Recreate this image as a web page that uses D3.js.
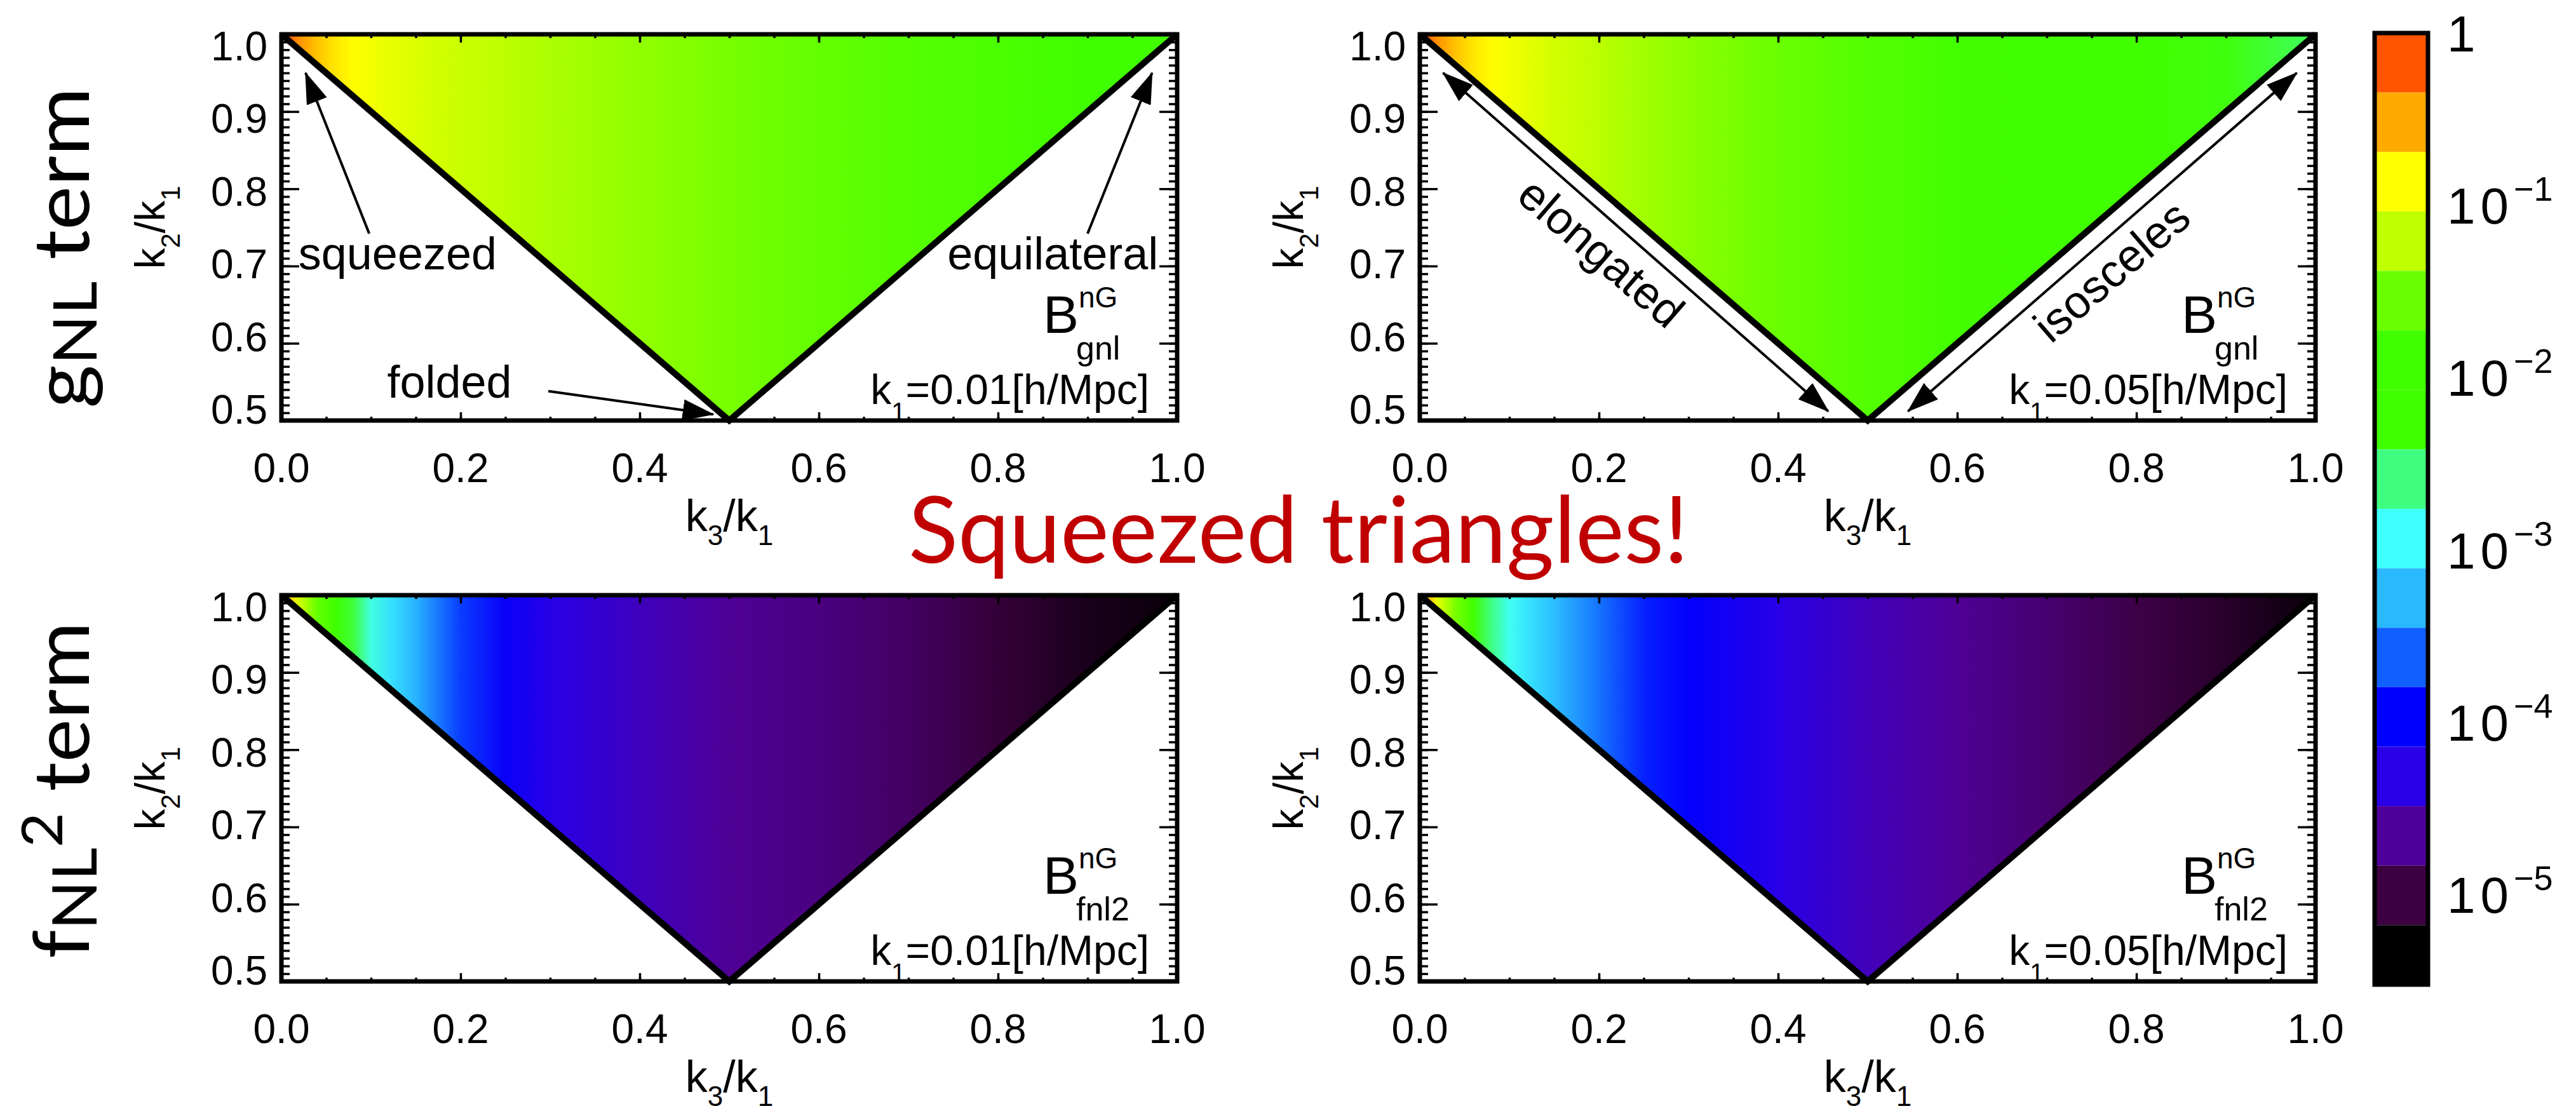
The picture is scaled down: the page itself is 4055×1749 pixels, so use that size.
<!DOCTYPE html>
<html>
<head>
<meta charset="utf-8">
<title>Squeezed triangles – non-Gaussian bispectrum shapes</title>
<script src="https://cdn.jsdelivr.net/npm/d3@7"></script>
<style>
  html, body { margin: 0; padding: 0; background: #fff; }
  svg { display: block; }
</style>
</head>
<body>
<svg id="chart" width="4055" height="1749"></svg>
<script>
// ---------------------------------------------------------------------------
// Data
// ---------------------------------------------------------------------------
// k3/k1 positions at which the normalised bispectrum is sampled
const k3Ratio = [0, 0.01, 0.02, 0.04, 0.06, 0.08, 0.1, 0.125, 0.15, 0.2, 0.25, 0.3, 0.4, 0.5, 0.6, 0.7, 0.8, 0.9, 1.0];

// log10 of B^nG (normalised to 1) along k3/k1, one list per panel
const gnlK001  = [-0.05, -0.25, -0.42, -0.62, -0.76, -0.86, -0.93, -1.00, -1.06, -1.15, -1.22, -1.29, -1.40, -1.50, -1.62, -1.73, -1.82, -1.90, -1.98];
const gnlK005  = [-0.05, -0.25, -0.42, -0.62, -0.76, -0.85, -0.93, -1.02, -1.10, -1.22, -1.33, -1.42, -1.56, -1.74, -1.88, -1.99, -2.10, -2.28, -2.50];
const fnl2K001 = [-0.10, -0.70, -1.10, -1.60, -1.95, -2.40, -2.85, -3.10, -3.30, -3.75, -4.05, -4.30, -4.50, -4.68, -4.76, -4.88, -5.05, -5.20, -5.30];
const fnl2K005 = [-0.10, -0.60, -1.00, -1.50, -2.05, -2.60, -2.90, -3.10, -3.25, -3.55, -3.85, -4.00, -4.30, -4.52, -4.68, -4.82, -4.98, -5.12, -5.30];

// colour bar: 16 levels from 1 down to 3e-6
const cbColors = ["#FF5500", "#FFAA00", "#FFFF00", "#BFFF00", "#6AFF00", "#40FF00", "#40FF00", "#40FF80",
                  "#40FFFF", "#2AB8FF", "#1060FF", "#0000FF", "#2A00E6", "#50009A", "#3C0040", "#000000"];
const cbTopColor = "#FF2200";
const cbMin = 3e-6, cbMax = 1;
const cbTicks = [1, 1e-1, 1e-2, 1e-3, 1e-4, 1e-5];

// axis tick labels
const xTicks = [0, 0.2, 0.4, 0.6, 0.8, 1.0];
const yTicks = [0.5, 0.6, 0.7, 0.8, 0.9, 1.0];

// ---------------------------------------------------------------------------
// Layout
// ---------------------------------------------------------------------------
const W = 4055, H = 1749;
const colX = [443, 2235], rowY = [54, 937];
const PW = 1410, PH = 608;
const FONT = "'Liberation Sans', Arial, Helvetica, sans-serif";
const SLIDE_FONT = "Lato, 'Open Sans', sans-serif";

const svg = d3.select("#chart");
svg.append("rect").attr("width", W).attr("height", H).attr("fill", "#fff");
const defs = svg.append("defs");

// arrow head used by the shape annotations
defs.append("marker")
  .attr("id", "head")
  .attr("markerUnits", "userSpaceOnUse")
  .attr("markerWidth", 50).attr("markerHeight", 34)
  .attr("refX", 48).attr("refY", 17)
  .attr("orient", "auto-start-reverse")
  .append("path").attr("d", "M0,0 L50,17 L0,34 Z").attr("fill", "#000");

// continuous colour map in log10 space built from the colour-bar levels
const logMax = Math.log10(cbMax), logMin = Math.log10(cbMin);
const bandW = (logMax - logMin) / cbColors.length;
const centres = cbColors.map((c, i) => logMax - (i + 0.5) * bandW);
const cmap = d3.scaleLinear()
  .domain([logMax, ...centres])
  .range([cbTopColor, ...cbColors])
  .interpolate(d3.interpolateRgb)
  .clamp(true);

// ---------------------------------------------------------------------------
// Panels
// ---------------------------------------------------------------------------
const panels = [
  { row: 0, col: 0, values: gnlK001,  sub: "gnl",  k1: "0.01" },
  { row: 0, col: 1, values: gnlK005,  sub: "gnl",  k1: "0.05" },
  { row: 1, col: 0, values: fnl2K001, sub: "fnl2", k1: "0.01" },
  { row: 1, col: 1, values: fnl2K005, sub: "fnl2", k1: "0.05" }
];

const xMinor = d3.range(21).map(i => i * 0.05);
const yMinor = d3.range(51).map(i => 0.5 + i * 0.01);

function styleTicks(sel) {
  sel.select(".domain").remove();
  sel.selectAll(".tick line").attr("stroke", "#000").attr("stroke-width", 3.5);
  sel.selectAll(".tick text").remove();
}

panels.forEach((p, idx) => {
  const x0 = colX[p.col], y0 = rowY[p.row];
  const x = d3.scaleLinear().domain([0, 1]).range([x0, x0 + PW]);
  const y = d3.scaleLinear().domain([0.5, 1]).range([y0 + PH, y0]);
  const g = svg.append("g").attr("class", "panel");

  // horizontal colour gradient along k3/k1
  const gid = "grad" + idx;
  defs.append("linearGradient")
    .attr("id", gid)
    .attr("gradientUnits", "userSpaceOnUse")
    .attr("x1", x(0)).attr("x2", x(1)).attr("y1", 0).attr("y2", 0)
    .selectAll("stop").data(k3Ratio).join("stop")
    .attr("offset", d => (x(d) - x(0)) / (x(1) - x(0)))
    .attr("stop-color", (d, i) => cmap(p.values[i]));

  const line = d3.line().x(d => x(d[0])).y(d => y(d[1]));
  // allowed triangle region: k3 <= k2 <= k1, k2 + k3 >= k1
  g.append("path")
    .attr("d", line([[0, 1], [1, 1], [0.5, 0.5]]) + "Z")
    .attr("fill", `url(#${gid})`);
  g.append("path")
    .attr("d", line([[0, 1], [0.5, 0.5], [1, 1]]))
    .attr("fill", "none").attr("stroke", "#000")
    .attr("stroke-width", 10).attr("stroke-linejoin", "miter");

  // inward ticks on all four sides
  const bottom = g.append("g").attr("transform", `translate(0,${y0 + PH})`);
  bottom.append("g").call(d3.axisBottom(x).tickValues(xMinor).tickSize(-6)).call(styleTicks);
  bottom.append("g").call(d3.axisBottom(x).tickValues(xTicks).tickSize(-13)).call(styleTicks);
  const top = g.append("g").attr("transform", `translate(0,${y0})`);
  top.append("g").call(d3.axisTop(x).tickValues(xMinor).tickSize(-6)).call(styleTicks);
  top.append("g").call(d3.axisTop(x).tickValues(xTicks).tickSize(-13)).call(styleTicks);
  const left = g.append("g").attr("transform", `translate(${x0},0)`);
  left.append("g").call(d3.axisLeft(y).tickValues(yMinor).tickSize(-13)).call(styleTicks);
  left.append("g").call(d3.axisLeft(y).tickValues(yTicks).tickSize(-28)).call(styleTicks);
  const right = g.append("g").attr("transform", `translate(${x0 + PW},0)`);
  right.append("g").call(d3.axisRight(y).tickValues(yMinor).tickSize(-13)).call(styleTicks);
  right.append("g").call(d3.axisRight(y).tickValues(yTicks).tickSize(-28)).call(styleTicks);

  // frame
  g.append("rect")
    .attr("x", x0).attr("y", y0).attr("width", PW).attr("height", PH)
    .attr("fill", "none").attr("stroke", "#000").attr("stroke-width", 7);

  // tick labels
  g.selectAll(".xl").data(xTicks).join("text")
    .attr("x", d => x(d)).attr("y", y0 + PH + 97)
    .attr("text-anchor", "middle")
    .attr("font-family", FONT).attr("font-size", 64)
    .text(d => d.toFixed(1));
  // y labels sit inside the axis span: top label flush with the top, bottom one with the bottom
  const yl = d3.scaleLinear().domain([0.5, 1]).range([y0 + PH - 18, y0 + 18]);
  g.selectAll(".yl").data(yTicks).join("text")
    .attr("x", x0 - 22).attr("y", d => yl(d)).attr("dy", "0.36em")
    .attr("text-anchor", "end")
    .attr("font-family", FONT).attr("font-size", 64)
    .text(d => d.toFixed(1));

  // axis titles
  const xt = g.append("text")
    .attr("x", x(0.5)).attr("y", y0 + PH + 174)
    .attr("text-anchor", "middle")
    .attr("font-family", FONT).attr("font-size", 70);
  xt.append("tspan").text("k");
  xt.append("tspan").attr("font-size", 44).attr("dy", 22).text("3");
  xt.append("tspan").attr("dy", -22).text("/k");
  xt.append("tspan").attr("font-size", 44).attr("dy", 22).text("1");

  const yt = g.append("text")
    .attr("transform", `translate(${x0 - 184},${y(0.75)}) rotate(-90)`)
    .attr("text-anchor", "middle")
    .attr("font-family", FONT).attr("font-size", 66);
  yt.append("tspan").text("k");
  yt.append("tspan").attr("font-size", 42).attr("dy", 24).text("2");
  yt.append("tspan").attr("dy", -24).text("/k");
  yt.append("tspan").attr("font-size", 42).attr("dy", 24).text("1");

  // B^nG label
  const bx = x0 + PW - 211, by = y0 + PH - 138;
  g.append("text").attr("x", bx).attr("y", by)
    .attr("font-family", FONT).attr("font-size", 84).text("B");
  g.append("text").attr("x", bx + 56).attr("y", by - 40)
    .attr("font-family", FONT).attr("font-size", 46).text("nG");
  g.append("text").attr("x", bx + 52).attr("y", by + 42)
    .attr("font-family", FONT).attr("font-size", 52).text(p.sub);

  // k1 label
  const kt = g.append("text")
    .attr("x", x0 + PW - 44).attr("y", y0 + PH - 26)
    .attr("text-anchor", "end")
    .attr("font-family", FONT).attr("font-size", 66);
  kt.append("tspan").text("k");
  kt.append("tspan").attr("font-size", 40).attr("dy", 26).text("1");
  kt.append("tspan").attr("dy", -26).text(`=${p.k1}[h/Mpc]`);

  p.x = x; p.y = y; p.g = g;
});

// ---------------------------------------------------------------------------
// Shape annotations (in k3/k1, k2/k1 coordinates)
// ---------------------------------------------------------------------------
const notesTL = [
  { text: "squeezed",    at: [0.019, 0.696], anchor: "start" },
  { text: "folded",      at: [0.118, 0.530], anchor: "start" },
  { text: "equilateral", at: [0.979, 0.696], anchor: "end" }
];
const arrowsTL = [
  { from: [0.098, 0.742], to: [0.027, 0.950] },
  { from: [0.298, 0.538], to: [0.482, 0.508] },
  { from: [0.900, 0.742], to: [0.972, 0.950] }
];
const arrowsTR = [
  { from: [0.456, 0.512], to: [0.026, 0.950] },
  { from: [0.545, 0.512], to: [0.979, 0.950] }
];
const notesTR = [
  { text: "elongated", at: [0.203, 0.718], side: 1 },
  { text: "isosceles", at: [0.772, 0.694], side: -1 }
];

{
  const p = panels[0];
  notesTL.forEach(n => {
    p.g.append("text")
      .attr("x", p.x(n.at[0])).attr("y", p.y(n.at[1]))
      .attr("text-anchor", n.anchor)
      .attr("font-family", FONT).attr("font-size", 72)
      .text(n.text);
  });
  arrowsTL.forEach(a => {
    p.g.append("line")
      .attr("x1", p.x(a.from[0])).attr("y1", p.y(a.from[1]))
      .attr("x2", p.x(a.to[0])).attr("y2", p.y(a.to[1]))
      .attr("stroke", "#000").attr("stroke-width", 4)
      .attr("marker-end", "url(#head)");
  });
}
{
  const p = panels[1];
  const ang = Math.atan2(p.y(0.5) - p.y(1), p.x(0.5) - p.x(0)) * 180 / Math.PI;
  arrowsTR.forEach(a => {
    p.g.append("line")
      .attr("x1", p.x(a.from[0])).attr("y1", p.y(a.from[1]))
      .attr("x2", p.x(a.to[0])).attr("y2", p.y(a.to[1]))
      .attr("stroke", "#000").attr("stroke-width", 4)
      .attr("marker-start", "url(#head)")
      .attr("marker-end", "url(#head)");
  });
  notesTR.forEach(n => {
    p.g.append("text")
      .attr("transform", `translate(${p.x(n.at[0])},${p.y(n.at[1])}) rotate(${n.side * ang})`)
      .attr("text-anchor", "middle").attr("dy", "0.36em")
      .attr("font-family", FONT).attr("font-size", 72)
      .text(n.text);
  });
}

// ---------------------------------------------------------------------------
// Colour bar
// ---------------------------------------------------------------------------
const cbX = 3738, cbW = 84, cbTop = 52, cbBottom = 1550;
const cbY = d3.scaleLog().domain([cbMin, cbMax]).range([cbBottom, cbTop]);
const cb = svg.append("g").attr("class", "colorbar");
cb.selectAll("rect.band").data(cbColors).join("rect")
  .attr("class", "band")
  .attr("x", cbX).attr("width", cbW)
  .attr("y", (d, i) => cbY(Math.pow(10, logMax - i * bandW)))
  .attr("height", (d, i) => cbY(Math.pow(10, logMax - (i + 1) * bandW)) - cbY(Math.pow(10, logMax - i * bandW)))
  .attr("fill", d => d);
cb.append("rect")
  .attr("x", cbX).attr("y", cbTop).attr("width", cbW).attr("height", cbBottom - cbTop)
  .attr("fill", "none").attr("stroke", "#000").attr("stroke-width", 7);
cbTicks.forEach(t => {
  const e = Math.round(Math.log10(t));
  const lab = cb.append("text")
    .attr("x", cbX + cbW + 30).attr("y", cbY(t)).attr("dy", "0.36em")
    .attr("font-family", FONT).attr("font-size", 80);
  if (e === 0) { lab.text("1"); return; }
  lab.append("tspan").attr("letter-spacing", 8).text("10");
  lab.append("tspan").attr("font-size", 54).attr("dy", -36).text("\u2212" + Math.abs(e));
});

// ---------------------------------------------------------------------------
// Slide texts
// ---------------------------------------------------------------------------
svg.append("text")
  .attr("x", 2044).attr("y", 886)
  .attr("text-anchor", "middle")
  .attr("font-family", SLIDE_FONT).attr("font-size", 146)
  .attr("textLength", 1228).attr("lengthAdjust", "spacingAndGlyphs")
  .attr("fill", "#C00000")
  .text("Squeezed triangles!");

// row titles, stretched along their reading direction to the span they cover
function rowTitle(cy, span, build) {
  const t = svg.append("text")
    .attr("text-anchor", "middle")
    .attr("font-family", SLIDE_FONT).attr("font-size", 122);
  build(t);
  const len = t.node().getComputedTextLength();
  t.attr("transform", `translate(140,${cy}) rotate(-90) scale(${span / len},1)`);
}
rowTitle(390, 505, t => {
  t.append("tspan").text("g");
  t.append("tspan").attr("font-size", 96).attr("dy", 12).text("NL");
  t.append("tspan").attr("dy", -12).text(" term");
});
rowTitle(1244, 530, t => {
  t.append("tspan").text("f");
  t.append("tspan").attr("font-size", 96).attr("dy", 12).text("NL");
  t.append("tspan").attr("font-size", 90).attr("dy", -54).text("2");
  t.append("tspan").attr("dy", 42).text(" term");
});
</script>
</body>
</html>
